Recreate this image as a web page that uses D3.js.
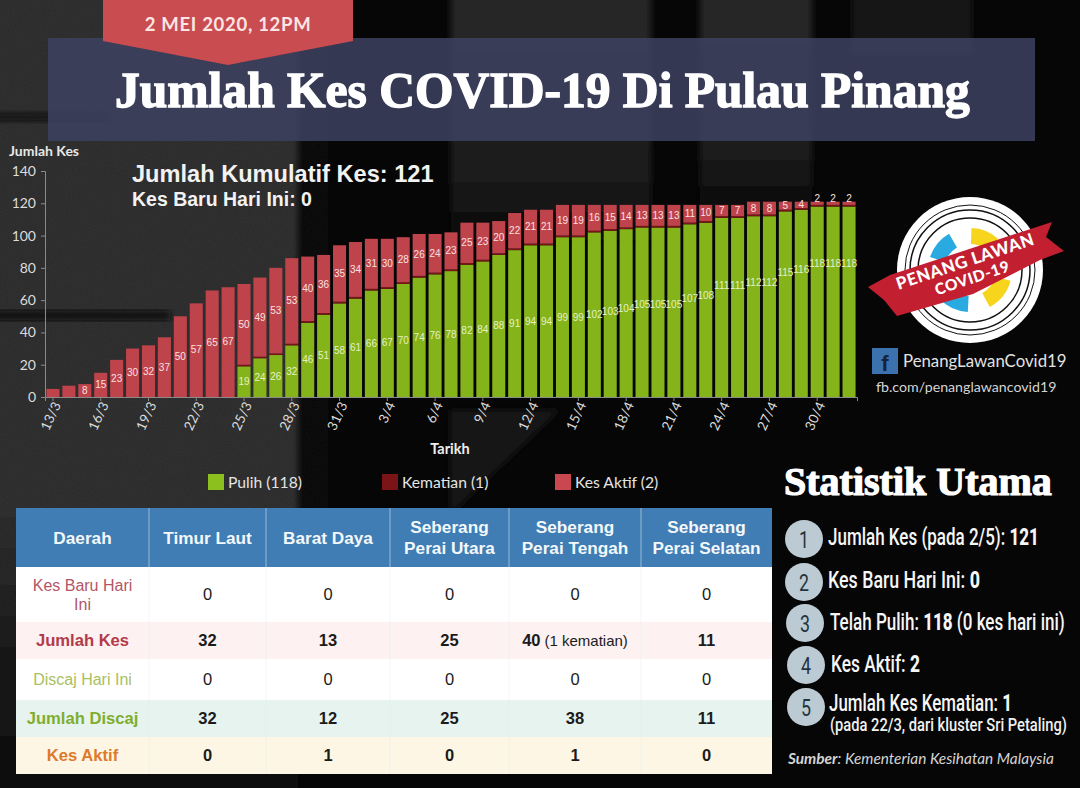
<!DOCTYPE html>
<html>
<head>
<meta charset="utf-8">
<script src="https://cdn.jsdelivr.net/npm/d3@7"></script>
<style>
  html, body { margin: 0; padding: 0; background: #050505; }
  svg { display: block; font-family: Lato, sans-serif; }
</style>
</head>
<body>
<div id="chart"></div>
<script>
// daily figures, 13/3 to 2/5
const dates = ['13/3','14/3','15/3','16/3','17/3','18/3','19/3','20/3','21/3','22/3','23/3','24/3','25/3','26/3','27/3','28/3','29/3','30/3','31/3',
  '1/4','2/4','3/4','4/4','5/4','6/4','7/4','8/4','9/4','10/4','11/4','12/4','13/4','14/4','15/4','16/4','17/4','18/4','19/4','20/4','21/4','22/4','23/4','24/4','25/4','26/4','27/4','28/4','29/4','30/4','1/5','2/5'];
const recovered = [0,0,0,0,0,0,0,0,0,0,0,0,19,24,26,32,46,51,58,61,66,67,70,74,76,78,82,84,88,91,94,94,99,99,102,103,104,105,105,105,107,108,111,111,112,112,115,116,118,118,118];
const deaths = [0,0,0,0,0,0,0,0,0,1,1,1,1,1,1,1,1,1,1,1,1,1,1,1,1,1,1,1,1,1,1,1,1,1,1,1,1,1,1,1,1,1,1,1,1,1,1,1,1,1,1];
const active = [5,7,8,15,23,30,32,37,50,57,65,67,50,49,53,53,40,36,35,34,31,30,28,26,24,23,25,23,20,22,21,21,19,19,16,15,14,13,13,13,11,10,7,7,8,8,5,4,2,2,2];
const yTicks = [0,20,40,60,80,100,120,140];

const legendLabels = ['Pulih (118)', 'Kematian (1)', 'Kes Aktif (2)'];

// table
const tableHeads = [['Daerah'],['Timur Laut'],['Barat Daya'],['Seberang','Perai Utara'],['Seberang','Perai Tengah'],['Seberang','Perai Selatan']];
const rowLabels = [['Kes Baru Hari','Ini'],['Jumlah Kes'],['Discaj Hari Ini'],['Jumlah Discaj'],['Kes Aktif']];
const rowCells = [
  ['0','0','0','0','0'],
  ['32','13','25','40|(1 kematian)','11'],
  ['0','0','0','0','0'],
  ['32','12','25','38','11'],
  ['0','1','0','1','0']
];

// side list
const statItems = [
  ['Jumlah Kes (pada 2/5): ', '121', ''],
  ['Kes Baru Hari Ini: ', '0', ''],
  ['Telah Pulih: ', '118', ' (0 kes hari ini)'],
  ['Kes Aktif: ', '2', ''],
  ['Jumlah Kes Kematian: ', '1', '']
];

const W = 1080, H = 788;
const svg = d3.select('#chart').append('svg').attr('width', W).attr('height', H);
const defs = svg.append('defs');

// ---- background photo, only roughly
defs.append('filter').attr('id', 'soft').attr('x', '-20%').attr('y', '-20%').attr('width', '140%').attr('height', '140%')
  .append('feGaussianBlur').attr('stdDeviation', 3);
const grain = defs.append('filter').attr('id', 'grain');
grain.append('feTurbulence').attr('type', 'fractalNoise').attr('baseFrequency', 0.7).attr('numOctaves', 2);
grain.append('feColorMatrix').attr('type', 'saturate').attr('values', 0);

const fadeV = defs.append('linearGradient').attr('id', 'panelFade').attr('x1', 0).attr('y1', 0).attr('x2', 0).attr('y2', 1);
fadeV.append('stop').attr('offset', 0).attr('stop-color', '#282828');
fadeV.append('stop').attr('offset', 0.7).attr('stop-color', '#1e1e1e');
fadeV.append('stop').attr('offset', 1).attr('stop-color', '#0a0a0a');
const fadeL = defs.append('linearGradient').attr('id', 'leftFade').attr('x1', 0).attr('y1', 0).attr('x2', 0).attr('y2', 1);
fadeL.append('stop').attr('offset', 0).attr('stop-color', '#2c2c2c');
fadeL.append('stop').attr('offset', 0.62).attr('stop-color', '#2c2c2c');
fadeL.append('stop').attr('offset', 0.75).attr('stop-color', '#1e1e1e');
fadeL.append('stop').attr('offset', 1).attr('stop-color', '#0c0c0c');

const bg = svg.append('g');
bg.append('rect').attr('width', W).attr('height', H).attr('fill', '#060606');
bg.append('rect').attr('x', -10).attr('y', -10).attr('width', 308).attr('height', 810).attr('fill', 'url(#leftFade)').attr('filter', 'url(#soft)');
bg.append('rect').attr('x', 0).attr('y', 0).attr('width', 298).attr('height', 560).attr('filter', 'url(#grain)').attr('opacity', 0.06);
bg.append('rect').attr('x', -10).attr('y', 311).attr('width', 180).attr('height', 9).attr('fill', '#111').attr('filter', 'url(#soft)');
bg.append('rect').attr('x', -10).attr('y', 112).attr('width', 120).attr('height', 10).attr('fill', '#141414').attr('filter', 'url(#soft)');
bg.append('rect').attr('x', 451).attr('y', -5).attr('width', 200).attr('height', 245).attr('fill', 'url(#panelFade)').attr('filter', 'url(#soft)');
bg.append('rect').attr('x', 700).attr('y', -5).attr('width', 112).attr('height', 215).attr('fill', 'url(#panelFade)').attr('filter', 'url(#soft)');
bg.append('rect').attr('x', 852).attr('y', -5).attr('width', 120).attr('height', 60).attr('fill', '#141414').attr('filter', 'url(#soft)');
bg.append('path').attr('d', 'M450 410 L560 410 L455 510 L450 510 Z').attr('fill', '#151515').attr('filter', 'url(#soft)');

// ---- heading
svg.append('rect').attr('x', 48).attr('y', 38).attr('width', 987).attr('height', 103)
  .attr('fill', '#3c4160').attr('opacity', 0.86);
svg.append('path').attr('d', 'M103 0 L353 0 L353 41 L228 65 L103 41 Z').attr('fill', '#c94c50');
svg.append('text').attr('x', 228).attr('y', 31).attr('text-anchor', 'middle')
  .attr('font-size', 18.5).attr('font-weight', 700).attr('letter-spacing', 0.7).attr('fill', '#fbe6e4').text('2 MEI 2020, 12PM');

// stretches a text to a given width, the poster fonts are not installed
function fit(sel, x, y, width) {
  const len = sel.node().getComputedTextLength();
  sel.attr('transform', 'translate(' + x + ',' + y + ') scale(' + (width / len) + ',1)');
  return sel;
}

const title = svg.append('text').attr('font-size', 50).attr('font-weight', 700).attr('fill', '#fff')
  .attr('stroke', '#fff').attr('stroke-width', 1.4)
  .style('font-family', '"Liberation Serif", serif').text('Jumlah Kes COVID-19 Di Pulau Pinang');
fit(title, 115, 107, 855);

// ---- bar chart
const x = d3.scaleBand().domain(dates).range([45, 857]).paddingInner(0.18).paddingOuter(0.09);
const y = d3.scaleLinear().domain([0, 140]).range([397, 171]);

const rows = dates.map((d, i) => ({date: d, recovered: recovered[i], deaths: deaths[i], active: active[i]}));
const stack = d3.stack().keys(['recovered', 'deaths', 'active'])(rows);
const barColors = {recovered: '#84b41a', deaths: '#7a1417', active: '#be434b'};

// before the first recoveries the death does not show as a strip, the red goes down to the axis
svg.append('g').selectAll('g').data(stack).enter().append('g')
  .attr('fill', d => barColors[d.key])
  .selectAll('rect').data(d => d).enter().append('rect')
  .attr('x', d => x(d.data.date))
  .attr('width', x.bandwidth())
  .attr('y', d => y(d[1]))
  .attr('height', d => y(d.data.recovered > 0 ? d[0] : 0) - y(d[1]));

const yAxis = svg.append('g').attr('transform', 'translate(45,0)')
  .call(d3.axisLeft(y).tickValues(yTicks).tickSize(4).tickPadding(5));
const xAxis = svg.append('g').attr('transform', 'translate(0,397)')
  .call(d3.axisBottom(x).tickValues(dates.filter((d, i) => i % 3 === 0)).tickSize(4).tickPadding(4));
[yAxis, xAxis].forEach(a => {
  a.selectAll('path,line').attr('stroke', '#8a8a8a');
  a.selectAll('text').attr('fill', '#dcdcdc').attr('font-size', 14).style('font-family', 'Lato, sans-serif');
});
xAxis.selectAll('text').attr('text-anchor', 'end').attr('dx', '-0.25em').attr('dy', '0.2em')
  .attr('font-size', 13.5)
  .attr('transform', 'rotate(-65)');

// value labels; the green ones above 102 were moved up in the original so they do not collide
const labels = svg.append('g').attr('text-anchor', 'middle').attr('font-size', 10)
  .style('font-family', '"Liberation Sans", sans-serif');
labels.selectAll('text.g').data(rows.filter(d => d.recovered > 0)).enter().append('text')
  .attr('class', 'g').attr('fill', '#e6f0c4').attr('dy', '0.35em')
  .attr('x', d => x(d.date) + x.bandwidth() / 2)
  .attr('y', d => y(d.recovered / 2 + 1.5 * Math.max(0, d.recovered - 102)))
  .text(d => d.recovered);
labels.selectAll('text.r').data(rows.filter(d => d.active > 7 || d.recovered > 0)).enter().append('text')
  .attr('class', 'r').attr('fill', '#fbe0e0').attr('dy', '0.35em')
  .attr('x', d => x(d.date) + x.bandwidth() / 2)
  .attr('y', d => {
    const top = d.recovered + d.deaths + d.active;
    return d.active <= 2 ? y(top) - 3 : y(top - d.active / 2);
  })
  .text(d => d.active);

svg.append('text').attr('x', 9).attr('y', 156).attr('font-size', 14).attr('font-weight', 700).attr('fill', '#e8e8e8').text('Jumlah Kes');
svg.append('text').attr('x', 450).attr('y', 454).attr('text-anchor', 'middle').attr('font-size', 14.5).attr('font-weight', 700).attr('fill', '#eee').text('Tarikh');
svg.append('text').attr('x', 132).attr('y', 182).attr('font-size', 23.6).attr('font-weight', 700).attr('fill', '#f2f2f2')
  .style('font-family', '"Liberation Sans", sans-serif').text('Jumlah Kumulatif Kes: 121');
svg.append('text').attr('x', 132).attr('y', 206).attr('font-size', 19.5).attr('font-weight', 700).attr('fill', '#f2f2f2')
  .style('font-family', '"Liberation Sans", sans-serif').text('Kes Baru Hari Ini: 0');

// legend
const legendX = [208, 382, 555];
const legendColors = ['#8cc01e', '#7a1417', '#c9474f'];
const legend = svg.append('g').selectAll('g').data(legendLabels).enter().append('g')
  .attr('transform', (d, i) => 'translate(' + legendX[i] + ',474)');
legend.append('rect').attr('width', 16).attr('height', 16).attr('fill', (d, i) => legendColors[i]);
legend.append('text').attr('x', 20).attr('y', 13.5).attr('font-size', 15.7).attr('fill', '#e4e4e4').text(d => d);

// ---- table
const colEdges = [16, 149, 266, 390, 509, 641, 772];
const rowEdges = [508, 567, 622, 659, 700, 737, 774];
const rowFills = ['#ffffff', '#fdf1f1', '#ffffff', '#e7f3ef', '#fdf6e4'];
const labelColors = ['#b35666', '#b23a4a', '#a9c063', '#7fae2e', '#dd7a2c'];
const boldRow = [false, true, false, true, true];
const table = svg.append('g').style('font-family', '"Liberation Sans", sans-serif');

table.append('rect').attr('x', colEdges[0]).attr('y', rowEdges[0])
  .attr('width', colEdges[6] - colEdges[0]).attr('height', rowEdges[1] - rowEdges[0]).attr('fill', '#3f7db4');
table.selectAll('rect.row').data(rowCells).enter().append('rect').attr('class', 'row')
  .attr('x', colEdges[0]).attr('y', (d, i) => rowEdges[i + 1])
  .attr('width', colEdges[6] - colEdges[0])
  .attr('height', (d, i) => rowEdges[i + 2] - rowEdges[i + 1])
  .attr('fill', (d, i) => rowFills[i]);
table.selectAll('line.sep').data(colEdges.slice(1, 6)).enter().append('line').attr('class', 'sep')
  .attr('x1', d => d).attr('x2', d => d).attr('y1', rowEdges[0]).attr('y2', rowEdges[6])
  .attr('stroke', '#e8eef2').attr('stroke-opacity', 0.55);

const colMid = i => (colEdges[i] + colEdges[i + 1]) / 2;
const rowMid = i => (rowEdges[i] + rowEdges[i + 1]) / 2;

tableHeads.forEach((lines, c) => {
  lines.forEach((t, k) => {
    table.append('text').attr('x', colMid(c)).attr('y', rowMid(0) + (k - (lines.length - 1) / 2) * 20.5)
      .attr('dy', '0.35em').attr('text-anchor', 'middle').attr('font-size', 17.2).attr('font-weight', 700)
      .attr('fill', '#f4f8fb').text(t);
  });
});
rowLabels.forEach((lines, r) => {
  lines.forEach((t, k) => {
    table.append('text').attr('x', colMid(0)).attr('y', rowMid(r + 1) + (k - (lines.length - 1) / 2) * 19)
      .attr('dy', '0.35em').attr('text-anchor', 'middle').attr('font-size', boldRow[r] ? 16.6 : 16)
      .attr('font-weight', boldRow[r] ? 700 : 400).attr('fill', labelColors[r]).text(t);
  });
});
rowCells.forEach((cells, r) => {
  cells.forEach((v, c) => {
    const parts = v.split('|');
    const t = table.append('text').attr('x', colMid(c + 1)).attr('y', rowMid(r + 1))
      .attr('dy', '0.35em').attr('text-anchor', 'middle').attr('font-size', 16.5)
      .attr('font-weight', boldRow[r] ? 700 : 400).attr('fill', '#1b1b1b').text(parts[0]);
    if (parts[1]) t.append('tspan').attr('dx', 4).attr('font-size', 15).attr('font-weight', 400).text(parts[1]);
  });
});

// ---- statistik utama
const st = svg.append('text').attr('font-size', 39).attr('font-weight', 700).attr('fill', '#fff')
  .attr('stroke', '#fff').attr('stroke-width', 1.2)
  .style('font-family', '"Liberation Serif", serif').text('Statistik Utama');
fit(st, 784, 495, 268);

const circleAt = [[804, 539], [804, 582], [805, 623], [806, 665], [806, 707]];
const lineAt = [[828, 545, 211], [828, 588, 152], [830, 630, 235], [831, 672, 89], [829, 711, 183]];

statItems.forEach((s, i) => {
  svg.append('circle').attr('cx', circleAt[i][0]).attr('cy', circleAt[i][1]).attr('r', 19).attr('fill', '#bccbd3');
  const n = svg.append('text').attr('font-size', 24).attr('fill', '#24343e')
    .style('font-family', 'Roboto, sans-serif').text(i + 1);
  fit(n, circleAt[i][0] - 5, circleAt[i][1] + 8.5, 10);
  const t = svg.append('text').attr('font-size', 24).attr('font-weight', 500).attr('fill', '#f6f6f6').style('font-family', 'Roboto, sans-serif');
  t.append('tspan').text(s[0]);
  t.append('tspan').attr('font-weight', 800).text(s[1]);
  if (s[2]) t.append('tspan').text(s[2]);
  fit(t, lineAt[i][0], lineAt[i][1], lineAt[i][2]);
});
const note = svg.append('text').attr('font-size', 18).attr('font-weight', 500).attr('fill', '#f0f0f0').style('font-family', 'Roboto, sans-serif')
  .text('(pada 22/3, dari kluster Sri Petaling)');
fit(note, 830, 731, 237);

const src = svg.append('text').attr('x', 788).attr('y', 764).attr('font-size', 15.4).attr('font-style', 'italic').attr('fill', '#d4d4d4');
src.append('tspan').attr('font-weight', 700).text('Sumber');
src.append('tspan').text(': Kementerian Kesihatan Malaysia');

// ---- logo
const logo = svg.append('g');
const cx = 970, cy = 270;
logo.append('circle').attr('cx', cx).attr('cy', cy).attr('r', 73).attr('fill', '#fff');
[[65, 1], [60, 1.5], [52, 1.5]].forEach(r => {
  logo.append('circle').attr('cx', cx).attr('cy', cy).attr('r', r[0]).attr('fill', 'none').attr('stroke', '#111').attr('stroke-width', r[1]);
});
const sector = d3.arc().innerRadius(26).outerRadius(42);
[[-72, -30, '#29abe2'], [2, 42, '#f7d51d'], [105, 152, '#f7d51d'], [183, 228, '#29abe2']].forEach(s => {
  logo.append('path').attr('transform', 'translate(' + cx + ',' + cy + ')')
    .attr('d', sector({startAngle: s[0] * Math.PI / 180, endAngle: s[1] * Math.PI / 180})).attr('fill', s[2]);
});
logo.append('path').attr('d', 'M890 275 L1052 222 L1046 237 L1064 251 L1040 260 L973 294 L897 316 L884 300 L868 287 Z').attr('fill', '#c21f30');
logo.append('text').attr('transform', 'translate(967,267) rotate(-18.5)').attr('text-anchor', 'middle')
  .attr('font-size', 17).attr('font-weight', 900).attr('letter-spacing', 0.6).attr('fill', '#fff').text('PENANG LAWAN');
logo.append('text').attr('transform', 'translate(974,283) rotate(-18.5)').attr('text-anchor', 'middle')
  .attr('font-size', 15.5).attr('font-weight', 900).attr('letter-spacing', 0.6).attr('fill', '#fff').text('COVID-19');

svg.append('rect').attr('x', 872).attr('y', 348).attr('width', 26).attr('height', 26).attr('fill', '#3b72ad');
svg.append('text').attr('x', 885).attr('y', 371).attr('text-anchor', 'middle').attr('font-size', 22).attr('font-weight', 900)
  .attr('fill', '#14233a').style('font-family', '"Liberation Sans", sans-serif').text('f');
svg.append('text').attr('x', 903).attr('y', 367).attr('font-size', 16.8).attr('fill', '#e2e2e2').text('PenangLawanCovid19');
svg.append('text').attr('x', 876).attr('y', 392).attr('font-size', 14.2).attr('fill', '#d4d4d4').text('fb.com/penanglawancovid19');
</script>
</body>
</html>
